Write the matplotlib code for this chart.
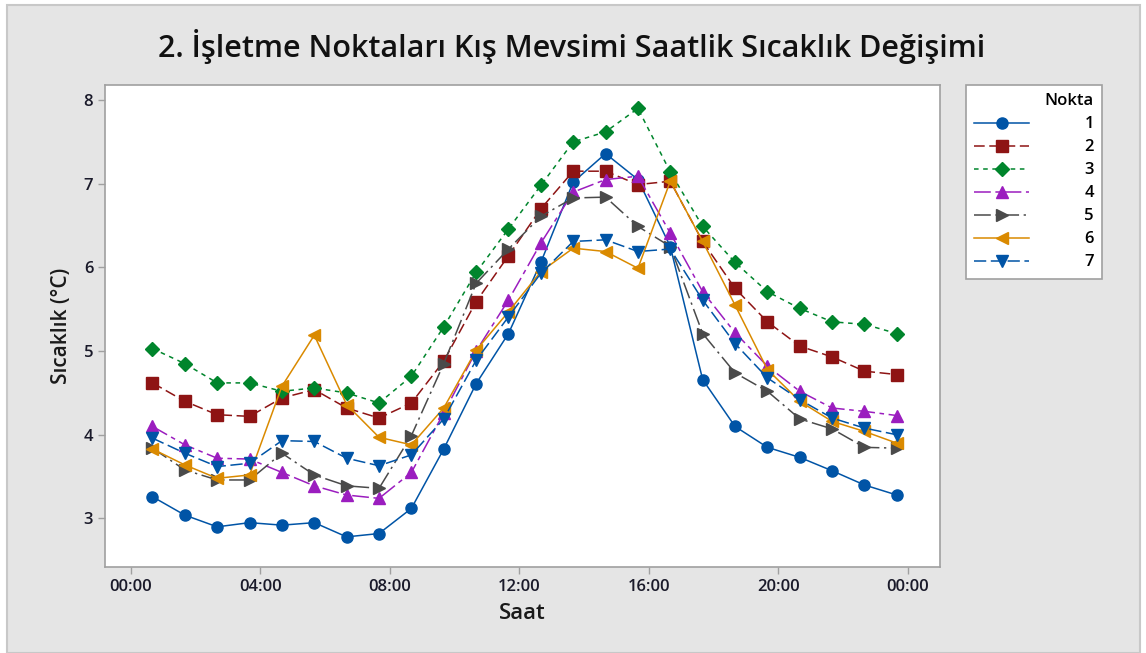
import numpy as np
import matplotlib
matplotlib.use("Agg")
import matplotlib.pyplot as plt
from matplotlib.patches import Rectangle

plt.rcParams['font.family'] = ['Open Sans', 'DejaVu Sans']

# Olcum saatleri (her saatin 40. dakikasi)
saatler = ["00:40", "01:40", "02:40", "03:40", "04:40", "05:40", "06:40", "07:40",
           "08:40", "09:40", "10:40", "11:40", "12:40", "13:40", "14:40", "15:40",
           "16:40", "17:40", "18:40", "19:40", "20:40", "21:40", "22:40", "23:40"]

nokta1 = [3.26, 3.04, 2.90, 2.95, 2.92, 2.95, 2.78, 2.82, 3.12, 3.83, 4.61, 5.21,
          6.06, 7.02, 7.36, 7.05, 6.25, 4.66, 4.10, 3.85, 3.73, 3.57, 3.40, 3.28]
nokta2 = [4.62, 4.40, 4.24, 4.22, 4.44, 4.54, 4.32, 4.20, 4.38, 4.88, 5.59, 6.14,
          6.70, 7.15, 7.15, 6.99, 7.03, 6.31, 5.75, 5.35, 5.06, 4.93, 4.76, 4.72]
nokta3 = [5.03, 4.85, 4.62, 4.62, 4.52, 4.56, 4.50, 4.38, 4.70, 5.29, 5.94, 6.46,
          6.98, 7.50, 7.62, 7.90, 7.14, 6.49, 6.06, 5.71, 5.51, 5.35, 5.32, 5.21]
nokta4 = [4.10, 3.88, 3.72, 3.71, 3.55, 3.39, 3.28, 3.24, 3.55, 4.26, 5.00, 5.61,
          6.29, 6.90, 7.05, 7.09, 6.41, 5.71, 5.22, 4.82, 4.52, 4.32, 4.28, 4.23]
nokta5 = [3.84, 3.58, 3.46, 3.46, 3.78, 3.52, 3.39, 3.36, 3.99, 4.85, 5.81, 6.22,
          6.61, 6.83, 6.84, 6.49, 6.25, 5.21, 4.74, 4.52, 4.19, 4.07, 3.85, 3.84]
nokta6 = [3.83, 3.64, 3.48, 3.52, 4.58, 5.19, 4.36, 3.97, 3.88, 4.32, 5.01, 5.47,
          5.95, 6.23, 6.19, 5.99, 7.03, 6.31, 5.55, 4.78, 4.40, 4.16, 4.04, 3.90]
nokta7 = [3.96, 3.78, 3.62, 3.66, 3.93, 3.92, 3.72, 3.63, 3.76, 4.19, 4.89, 5.41,
          5.93, 6.31, 6.33, 6.19, 6.22, 5.61, 5.09, 4.68, 4.42, 4.20, 4.08, 4.00]

seriler = [nokta1, nokta2, nokta3, nokta4, nokta5, nokta6, nokta7]
etiketler = ["1", "2", "3", "4", "5", "6", "7"]
tick_etiket = ["00:00", "04:00", "08:00", "12:00", "16:00", "20:00", "00:00"]

renkler = ["#0054A6", "#8E1414", "#00852C", "#9B1DBF", "#4A4A4A", "#DA8A00", "#0054A6"]
isaretler = ["o", "s", "D", "^", ">", "<", "v"]
cizgiler = ["-", (0, (7, 3)), (0, (3, 3)), (0, (11, 3, 3, 3)), (0, (11, 3, 1.5, 3)), "-", (0, (8, 3))]
boyut = [8, 8, 7.5, 9, 9, 9, 9]

def saat_to_h(s):
    h, m = s.split(":")
    return int(h) + int(m) / 60.0

x = np.array([saat_to_h(s) for s in saatler])

fig = plt.figure(figsize=(11.46, 6.53), dpi=100)
fig.patch.set_facecolor("white")
fig.patches.append(Rectangle((7 / 1146, 0), (1140 - 7) / 1146, 1 - 5 / 653,
                             transform=fig.transFigure, facecolor="#E5E5E5",
                             edgecolor="#C8C8C8", linewidth=1.5, zorder=-10))

ax = fig.add_axes([105 / 1146, 1 - 567 / 653, (940 - 105) / 1146, (567 - 85) / 653])
ax.set_facecolor("white")

for i, s in enumerate(seriler):
    ax.plot(x, s, color=renkler[i], marker=isaretler[i], markersize=boyut[i],
            linestyle=cizgiler[i], linewidth=1.1, label=etiketler[i],
            markeredgecolor=renkler[i], zorder=3 + i * 0.1)

ax.set_xlim(-0.8, 25.0)
ax.set_ylim(2.42, 8.18)
ax.set_xticks([0, 4, 8, 12, 16, 20, 24])
ax.set_xticklabels(tick_etiket)
ax.set_yticks([3, 4, 5, 6, 7, 8])
for sp in ax.spines.values():
    sp.set_color("#A0A0A0")
    sp.set_linewidth(1.2)
ax.tick_params(colors="#A0A0A0", labelcolor="#1A1A2A", labelsize=12, length=5, width=1)
for lab in ax.get_xticklabels() + ax.get_yticklabels():
    lab.set_fontweight("semibold")

ax.set_xlabel("Saat", fontsize=16, fontweight="semibold", color="#1A1A1A", labelpad=6)
ax.set_ylabel("Sıcaklık (°C)", fontsize=15, fontweight="semibold", color="#1A1A1A", labelpad=8)
fig.text(572 / 1146, 1 - 47 / 653,
         "2. İşletme Noktaları Kış Mevsimi Saatlik Sıcaklık Değişimi",
         ha="center", va="center", fontsize=22, fontweight="semibold", color="#111111")

leg = ax.legend(loc="upper left", bbox_to_anchor=(966 / 1146, 1 - 85 / 653),
                bbox_transform=fig.transFigure, title="Nokta", fontsize=12,
                title_fontproperties={"size": 12, "weight": "semibold"},
                handlelength=3.3, handletextpad=3.3, labelspacing=0.42,
                borderpad=0.5, frameon=True, fancybox=False, alignment="right",
                borderaxespad=0, framealpha=1, facecolor="white")
leg.get_frame().set_edgecolor("#A0A0A0")
leg.get_frame().set_linewidth(1.2)
for t in leg.get_texts():
    t.set_fontweight("semibold")

fig.savefig("out.png", dpi=100, facecolor=fig.get_facecolor())
